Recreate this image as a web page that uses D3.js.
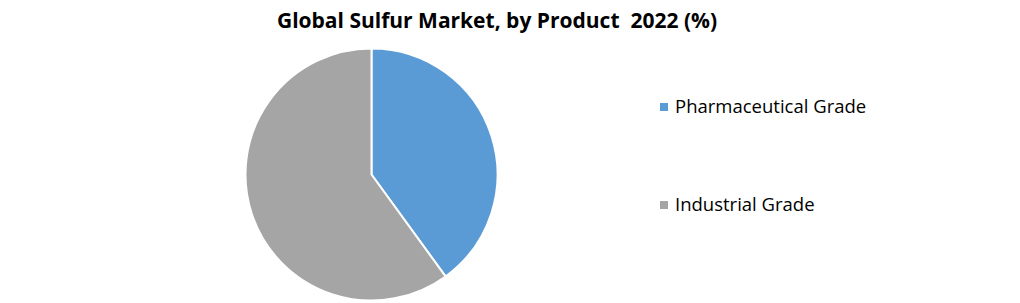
<!DOCTYPE html>
<html>
<head>
<script src="https://cdn.jsdelivr.net/npm/d3@7"></script>
<style>
body { margin: 0; background: #fff; }
text { font-family: "Open Sans", "Noto Sans", sans-serif; }
</style>
</head>
<body>
<div id="chart"></div>
<script>
var categories = ["Pharmaceutical Grade", "Industrial Grade"];
var shares = [40, 60];
var colors = ["#5B9BD5", "#A5A5A5"];

var w = 1020, h = 303;
var cx = 371.5, cy = 174.5, radius = 126;

var svg = d3.select("#chart").append("svg")
    .attr("width", w)
    .attr("height", h);

svg.append("text")
    .attr("x", 497)
    .attr("y", 28)
    .attr("text-anchor", "middle")
    .style("font-size", "21px")
    .style("font-weight", "bold")
    .attr("fill", "#000")
    .attr("xml:space", "preserve")
    .text("Global Sulfur Market, by Product  2022 (%)");

var data = categories.map(function(c, i) { return {name: c, value: shares[i], color: colors[i]}; });

var pie = d3.pie().sort(null).value(function(d) { return d.value; });
var arc = d3.arc().innerRadius(0).outerRadius(radius);

svg.append("g")
    .attr("transform", "translate(" + cx + "," + cy + ")")
  .selectAll("path")
  .data(pie(data))
  .enter().append("path")
    .attr("d", arc)
    .attr("fill", function(d) { return d.data.color; })
    .attr("stroke", "#fff")
    .attr("stroke-width", 2);

var legendY = d3.scalePoint().domain(categories).range([107, 205]);

var legend = svg.selectAll(".legend")
    .data(data)
  .enter().append("g")
    .attr("class", "legend")
    .attr("transform", function(d) { return "translate(660," + legendY(d.name) + ")"; });

legend.append("rect")
    .attr("x", 0)
    .attr("y", -4)
    .attr("width", 8)
    .attr("height", 8)
    .attr("fill", function(d) { return d.color; });

legend.append("text")
    .attr("x", 15)
    .attr("y", 6)
    .style("font-size", "18.5px")
    .attr("fill", "#000")
    .text(function(d) { return d.name; });
</script>
</body>
</html>
